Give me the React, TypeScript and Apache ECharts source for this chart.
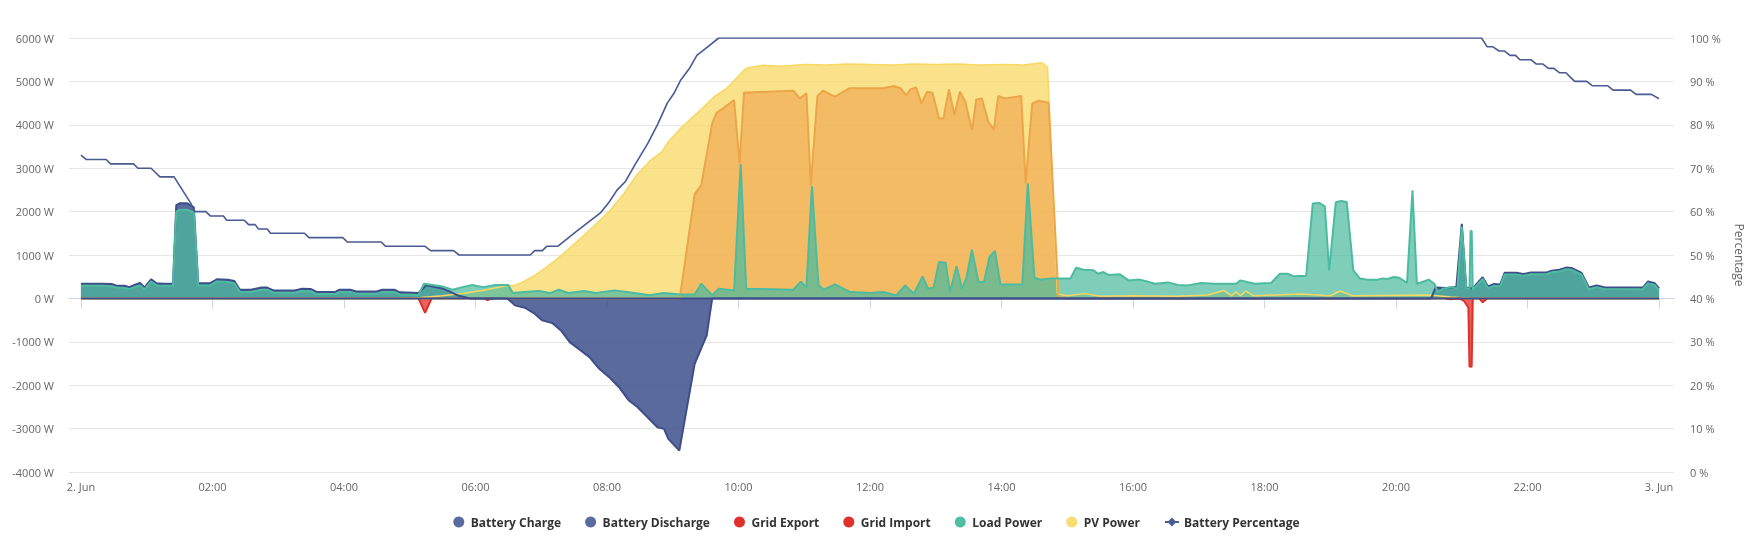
import React, { useEffect, useRef } from "react";
import * as echarts from "echarts";

// time in minutes after midnight (2. Jun), value in W
const batteryCharge: [number, number][] = [
  [0, 0], [389, 0], [391, -45], [396, -161], [405, -215], [414, -353], [421, -507], [430, -569],
  [438, -738], [446, -1007], [456, -1200], [464, -1353], [473, -1623], [482, -1815], [491, -2046],
  [500, -2354], [508, -2507], [517, -2738], [526, -2969], [532, -3007], [536, -3238], [546, -3507],
  [560, -1507], [571, -853], [576, 0], [1440, 0],
];

const batteryDischarge: [number, number][] = [
  [0, 340], [10, 340], [20, 340], [28, 330], [32, 300], [40, 290], [44, 260], [50, 320], [54, 355],
  [58, 250], [64, 440], [69, 350], [75, 335], [84, 340], [87, 2150], [90, 2190], [97, 2190],
  [103, 2100], [107, 350], [118, 350], [124, 440], [134, 430], [140, 400], [145, 200], [155, 200],
  [165, 250], [170, 250], [176, 180], [195, 180], [201, 220], [210, 215], [215, 150], [232, 150],
  [236, 200], [246, 200], [251, 160], [270, 160], [275, 200], [286, 200], [291, 140], [308, 125],
  [315, 300], [330, 230], [345, 60], [355, 0], [1232, 0], [1236, 250], [1246, 240], [1255, 260],
  [1260, 1720], [1264, 250], [1270, 230], [1279, 490], [1284, 275], [1289, 330], [1295, 320],
  [1299, 590], [1310, 590], [1316, 560], [1323, 595], [1337, 595], [1342, 640], [1349, 660],
  [1355, 710], [1360, 700], [1369, 595], [1376, 250], [1383, 300], [1390, 255], [1425, 250],
  [1430, 390], [1436, 350], [1440, 230],
];

const gridExport: [number, number][] = [
  [0, 0], [546, 0], [547, 100], [560, 2401], [566, 2608], [576, 4032], [580, 4278], [586, 4378],
  [596, 4570], [601, 3108], [605, 4740], [650, 4786], [656, 4609], [662, 4724], [666, 2609],
  [672, 4663], [677, 4786], [688, 4647], [701, 4840], [732, 4840], [742, 4893], [748, 4840],
  [753, 4686], [757, 4817], [762, 4863], [767, 4493], [772, 4763], [777, 4740], [783, 4147],
  [787, 4147], [792, 4817], [797, 4224], [802, 4763], [807, 4532], [813, 3878], [817, 4586],
  [822, 4609], [828, 4070], [833, 3893], [837, 4663], [843, 4609], [858, 4663], [862, 2647],
  [868, 4493], [874, 4555], [883, 4509], [892, 30], [900, 0], [1440, 0],
];

// null separates the short import episodes
const gridImport: [number, number | null][] = [
  [308, 0], [314, -330], [320, 0], [321, null], [368, 0], [371, -40], [375, 0], [376, null],
  [1245, 0], [1250, -20], [1258, 0], [1262, -60], [1266, -210], [1267, -1570], [1269, -1575],
  [1270, 0], [1271, null], [1276, 0], [1279, -90], [1283, 0],
];

const loadPower: [number, number][] = [
  [0, 290], [10, 290], [20, 290], [28, 280], [32, 250], [40, 240], [44, 215], [50, 270], [54, 300],
  [58, 205], [64, 390], [69, 300], [75, 290], [84, 290], [87, 2000], [90, 2040], [97, 2040],
  [103, 1980], [107, 300], [118, 300], [124, 390], [134, 380], [140, 350], [145, 150], [155, 150],
  [165, 200], [170, 200], [176, 130], [195, 130], [201, 170], [210, 165], [215, 100], [232, 100],
  [236, 150], [246, 150], [251, 110], [270, 110], [275, 150], [286, 150], [291, 90], [308, 80],
  [313, 340], [329, 280], [339, 200], [348, 260], [357, 307], [367, 260], [378, 307], [390, 307],
  [394, 123], [404, 146], [418, 169], [428, 123], [436, 200], [445, 123], [459, 169], [470, 123],
  [487, 185], [505, 123], [519, 71], [532, 123], [547, 92], [560, 92], [566, 339], [576, 70],
  [582, 223], [596, 185], [602, 3092], [607, 223], [650, 200], [657, 384], [662, 246], [667, 2585],
  [673, 300], [678, 200], [688, 323], [702, 146], [720, 123], [732, 146], [744, 70], [752, 300],
  [760, 108], [768, 508], [773, 223], [778, 246], [783, 838], [789, 823], [793, 146], [799, 738],
  [804, 223], [808, 477], [813, 1123], [819, 377], [824, 377], [829, 954], [834, 1092], [839, 323],
  [859, 323], [864, 2646], [870, 477], [876, 431], [885, 461], [903, 461], [908, 708], [915, 661],
  [924, 646], [928, 569], [933, 608], [938, 538], [948, 554], [956, 415], [965, 438], [971, 400],
  [980, 338], [992, 369], [1001, 308], [1010, 300], [1022, 354], [1034, 338], [1054, 338],
  [1058, 415], [1071, 338], [1086, 354], [1094, 569], [1101, 569], [1107, 508], [1118, 523],
  [1124, 2185], [1130, 2200], [1135, 2123], [1139, 646], [1145, 2215], [1150, 2246], [1155, 2223],
  [1161, 646], [1167, 461], [1174, 431], [1183, 431], [1188, 461], [1192, 446], [1198, 492],
  [1203, 477], [1210, 354], [1215, 2492], [1219, 338], [1230, 431], [1235, 338], [1238, 146],
  [1243, 223], [1251, 261], [1256, 220], [1260, 1650], [1264, 220], [1267, 230], [1268, 1553],
  [1269, 1553], [1270, 200], [1279, 450], [1284, 235], [1289, 290], [1295, 280], [1299, 550],
  [1310, 550], [1316, 520], [1323, 555], [1337, 555], [1342, 600], [1349, 620], [1355, 670],
  [1360, 660], [1369, 555], [1376, 210], [1383, 260], [1390, 215], [1425, 210], [1430, 350],
  [1436, 310], [1440, 190],
];

const pvPower: [number, number][] = [
  [0, 0], [290, 0], [310, 20], [330, 60], [350, 120], [370, 200], [390, 300], [396, 300],
  [405, 401], [414, 532], [423, 685], [435, 916], [447, 1185], [459, 1455], [471, 1739],
  [483, 2032], [495, 2401], [507, 2840], [520, 3186], [530, 3378], [536, 3609], [547, 3916],
  [558, 4170], [567, 4378], [577, 4631], [589, 4838], [598, 5070], [607, 5301], [622, 5370],
  [640, 5350], [660, 5390], [680, 5380], [700, 5400], [720, 5390], [740, 5380], [760, 5400],
  [780, 5390], [800, 5400], [820, 5380], [840, 5390], [860, 5380], [877, 5430], [882, 5330],
  [891, 100], [900, 60], [916, 110], [930, 50], [960, 60], [1000, 50], [1028, 80], [1043, 180],
  [1050, 60], [1054, 150], [1058, 60], [1063, 170], [1070, 60], [1113, 100], [1140, 60],
  [1149, 170], [1160, 60], [1230, 80], [1250, 30], [1270, 0], [1440, 0],
];

// percent
const batteryPercentage: [number, number][] = [
  [0, 73], [5, 72], [23, 72], [27, 71], [48, 71], [52, 70], [64, 70], [68, 69], [72, 68], [85, 68],
  [100, 62], [104, 60], [114, 60], [118, 59], [130, 59], [133, 58], [149, 58], [153, 57], [159, 57],
  [162, 56], [170, 56], [173, 55], [204, 55], [208, 54], [239, 54], [243, 53], [274, 53], [278, 52],
  [314, 52], [319, 51], [340, 51], [345, 50], [410, 50], [414, 51], [421, 51], [425, 52], [435, 52],
  [453, 55.6], [474, 59.7], [482, 62.2], [489, 64.9], [497, 67], [506, 71], [517, 75.6], [526, 80],
  [535, 85], [541, 87.2], [547, 90.2], [555, 92.9], [562, 96], [571, 97.8], [582, 100], [1278, 100],
  [1283, 98], [1288, 98], [1294, 97], [1299, 97], [1304, 96], [1309, 96], [1313, 95], [1323, 95],
  [1328, 94], [1334, 94], [1339, 93], [1344, 93], [1349, 92], [1355, 92], [1359, 91], [1363, 90],
  [1374, 90], [1379, 89], [1393, 89], [1398, 88], [1414, 88], [1419, 87], [1433, 87], [1440, 86],
];

const xTickValues = [0, 120, 240, 360, 480, 600, 720, 840, 960, 1080, 1200, 1320, 1440];
const legendNames = [
  "Battery Charge", "Battery Discharge", "Grid Export", "Grid Import",
  "Load Power", "PV Power", "Battery Percentage",
];

const FONT = "'Open Sans', sans-serif";

export default function App() {
  const ref = useRef<HTMLDivElement>(null);
  useEffect(() => {
    if (!ref.current) return;
    const chart = echarts.init(ref.current, undefined, { renderer: "svg" });
    const minPerPx = 1440 / 1586;
    const area = (name: string, data: any[], item: string, line: string, fill: string, fillOpacity: number, lw = 2) => ({
      name, type: "line", data, showSymbol: false, symbol: "circle", smooth: false, connectNulls: false,
      itemStyle: { color: item },
      lineStyle: { color: line, width: lw },
      areaStyle: { color: fill, opacity: fillOpacity },
      emphasis: { disabled: true },
    });
    chart.setOption({
      animation: false,
      textStyle: { fontFamily: FONT },
      grid: { left: 69, right: 71, top: 38, bottom: 72 },
      legend: {
        top: 511,
        left: "center",
        itemWidth: 14,
        itemHeight: 11,
        itemGap: 24,
        textStyle: { color: "#333333", fontWeight: "bold", fontSize: 12, fontFamily: FONT },
        data: legendNames.map((n) => (n === "Battery Percentage" ? { name: n } : { name: n, icon: "circle" })),
      },
      xAxis: {
        type: "value",
        min: -12 * minPerPx,
        max: 1440 + 15 * minPerPx,
        axisLine: { show: true, lineStyle: { color: "#ccd6eb", width: 1 } },
        axisTick: { show: true, customValues: xTickValues, length: 10, lineStyle: { color: "#ccd6eb" } },
        axisLabel: {
          customValues: xTickValues,
          color: "#666666",
          fontSize: 11,
          margin: 9,
          fontFamily: FONT,
          formatter: (v: number) => {
            if (v === 0) return "2. Jun";
            if (v === 1440) return "3. Jun";
            const h = Math.round(v / 60);
            return (h < 10 ? "0" : "") + h + ":00";
          },
        },
        splitLine: { show: false },
      },
      yAxis: [
        {
          type: "value", min: -4000, max: 6000, interval: 1000,
          axisLabel: { formatter: (v: number) => v + " W", color: "#666666", fontSize: 11, margin: 15, fontFamily: FONT },
          axisLine: { show: false }, axisTick: { show: false },
          splitLine: { lineStyle: { color: "#e6e6e6", width: 1 } },
        },
        {
          type: "value", min: 0, max: 100, interval: 10, position: "right",
          name: "Percentage", nameLocation: "middle", nameRotate: -90, nameGap: 59,
          nameTextStyle: { color: "#666666", fontSize: 12, fontFamily: FONT },
          axisLabel: { formatter: (v: number) => v + " %", color: "#666666", fontSize: 11, margin: 16, fontFamily: FONT },
          axisLine: { show: false }, axisTick: { show: false },
          splitLine: { show: false },
        },
      ],
      series: [
        area("PV Power", pvPower, "#f7dc6f", "#f7d862", "#f7d862", 0.75, 1.5),
        area("Grid Export", gridExport, "#e0302a", "#eda54a", "#f0ae58", 0.75),
        area("Grid Import", gridImport, "#e0302a", "#e0302a", "#e53935", 0.8),
        area("Battery Charge", batteryCharge, "#5b6b9e", "#3d4e8a", "#3d508b", 0.85),
        area("Battery Discharge", batteryDischarge, "#5b6b9e", "#3d4e8a", "#3d508b", 0.85),
        area("Load Power", loadPower, "#4dbfa4", "#4cbba0", "#4cbba0", 0.72),
        {
          name: "Battery Percentage", type: "line", yAxisIndex: 1, data: batteryPercentage,
          showSymbol: false, symbol: "diamond", symbolSize: 8, smooth: false,
          itemStyle: { color: "#4a5a92" },
          lineStyle: { color: "#4a5a92", width: 1.6 },
          emphasis: { disabled: true },
        },
      ],
    });
    return () => chart.dispose();
  }, []);
  return <div ref={ref} style={{ position: "fixed", left: 0, top: 0, width: 1753, height: 544 }} />;
}
